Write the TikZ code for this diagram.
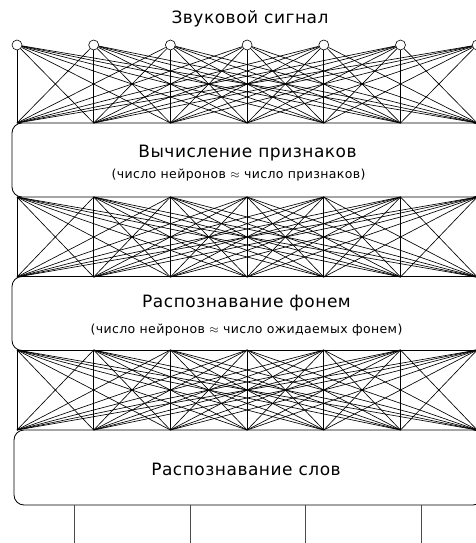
\documentclass[tikz,border=0pt]{standalone}
\usepackage{fontspec}
\setmainfont[LetterSpace=3]{DejaVu Sans}
\usetikzlibrary{positioning}

\begin{document}
\begin{tikzpicture}[x=1pt,y=-1pt,
    neuron/.style={circle,draw,fill=white,inner sep=0pt,minimum size=10pt,line width=0.6pt},
    link/.style={line width=0.65pt},
    layerbox/.style={draw,rounded corners=10pt,line width=0.8pt,minimum width=471pt,minimum height=74pt},
    bigtext/.style={font=\fontsize{17}{20}\selectfont,anchor=base,inner sep=0pt},
    smalltext/.style={font=\fontsize{12.5}{15}\selectfont,anchor=base,inner sep=0pt}]
    \useasboundingbox (0,0) rectangle (476,543);

    % Title
    \node[bigtext] (title) at (250,24) {Звуковой сигнал};

    % Boxes
    \node[layerbox] (feat) at (247.5,160) {};
    \node[bigtext] (featname) at (247.5,157) {Вычисление признаков};
    \node[smalltext] (featnote) at (238.5,178) {(число нейронов $\approx$ число признаков)};

    \node[layerbox] (phon) at (247.5,313.5) {};
    \node[bigtext] (phonname) at (246.5,307) {Распознавание фонем};
    \node[smalltext] (phonnote) at (246.5,333) {(число нейронов $\approx$ число ожидаемых фонем)};

    \node[layerbox,minimum width=469pt,minimum height=75pt] (words) at (248.5,467.5) {};
    \node[bigtext] (wordsname) at (246,475) {Распознавание слов};

    % Neurons and contact points
    \foreach \k in {0,...,6} {
        \node[neuron] (in\k) at (17+76.7*\k,45) {};
        \coordinate (a\k) at (17+76.7*\k,123);
        \coordinate (b\k) at (17+76.7*\k,197);
        \coordinate (c\k) at (17+76.7*\k,277);
        \coordinate (d\k) at (17+76.7*\k,350);
        \coordinate (e\k) at (17+76.7*\k,430);
    }

    % Full connections between layers
    \foreach \i in {0,...,6}
        \foreach \j in {0,...,6} {
            \draw[link] (in\i) -- (a\j);
            \draw[link] (b\i) -- (c\j);
            \draw[link] (d\i) -- (e\j);
        }

    % Outputs
    \foreach \j in {0,...,3} {
        \coordinate (out\j) at (74.5+115.5*\j,505);
        \coordinate (end\j) at (74.5+115.5*\j,543);
        \draw[line width=0.8pt,black!70] (out\j) -- (end\j);
    }
\end{tikzpicture}
\end{document}
